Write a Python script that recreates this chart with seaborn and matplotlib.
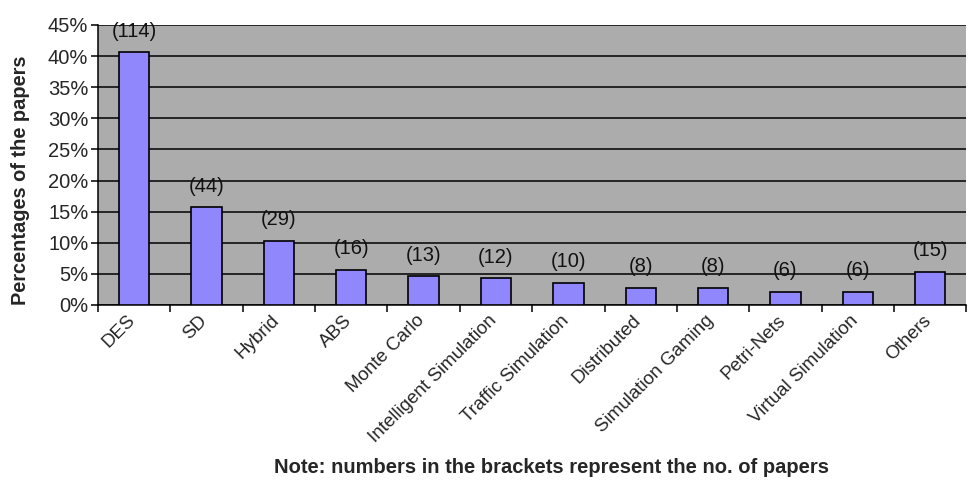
import matplotlib
matplotlib.use("Agg")
import matplotlib.pyplot as plt
import matplotlib.transforms as mtransforms
import numpy as np
import pandas as pd
import seaborn as sns
from matplotlib.ticker import FixedLocator, PercentFormatter

# Data
categories = ["DES", "SD", "Hybrid", "ABS", "Monte Carlo", "Intelligent Simulation",
              "Traffic Simulation", "Distributed", "Simulation Gaming", "Petri-Nets",
              "Virtual Simulation", "Others"]
percentages = [40.6, 15.7, 10.3, 5.7, 4.6, 4.3, 3.6, 2.8, 2.8, 2.1, 2.1, 5.3]
paper_counts = [114, 44, 29, 16, 13, 12, 10, 8, 8, 6, 6, 15]

df = pd.DataFrame({"method": categories, "pct": percentages, "n": paper_counts})

sns.set_style("white")
plt.rcParams['font.family'] = ['Liberation Sans', 'DejaVu Sans']

fig = plt.figure(figsize=(9.73, 4.8), dpi=100)
ax = fig.add_axes([0.1007, 0.3646, 0.8925, 0.5834])
ax.set_facecolor("#acacac")

sns.barplot(data=df, x="method", y="pct", color="#8f87fb", width=0.42,
            edgecolor="black", linewidth=1.2, saturation=1, ax=ax, zorder=3)

ax.set_ylim(0, 45)
ax.set_xlim(-0.5, len(categories) - 0.5)
ax.set_yticks(np.arange(0, 46, 5))
ax.yaxis.set_major_formatter(PercentFormatter(decimals=0))
ax.yaxis.grid(True, color="black", linewidth=1.1, zorder=1)
ax.set_axisbelow(True)

# count labels above bars
for i, (p, n) in enumerate(zip(percentages, paper_counts)):
    ax.text(i, p + 3.4, f"({n})", ha="center", va="center", fontsize=14.5,
            color="#111111", clip_on=False)

# tick marks between categories, labels at centers
ax.set_xticks(range(len(categories)))
ax.xaxis.set_minor_locator(FixedLocator(np.arange(-0.5, len(categories), 1)))
ax.tick_params(axis="x", which="major", length=0, pad=5)
ax.tick_params(axis="x", which="minor", bottom=True, length=5, width=1.1,
               color="black", direction="out")
ax.tick_params(axis="y", left=True, length=5, width=1.1, color="black",
               direction="out", pad=2)
ax.set_xticklabels(categories, rotation=45, ha="right", rotation_mode="anchor",
                   fontsize=13.5)
shift = mtransforms.ScaledTranslation(-8 / 100, 0, fig.dpi_scale_trans)
for lbl in ax.get_xticklabels():
    lbl.set_transform(lbl.get_transform() + shift)
for lbl in ax.get_yticklabels():
    lbl.set_fontsize(14.5)

ax.set_xlabel("")
ax.set_ylabel("Percentages of the papers", fontsize=14.4, fontweight="bold")
ax.yaxis.set_label_coords(-0.078, 0.446)

for side in ["top", "right"]:
    ax.spines[side].set_visible(False)
ax.spines["left"].set_color("black")
ax.spines["bottom"].set_color("black")
ax.spines["left"].set_linewidth(1.1)
ax.spines["bottom"].set_linewidth(1.1)

fig.text(0.567, 0.027, "Note: numbers in the brackets represent the no. of papers",
         ha="center", va="center", fontsize=14.5, fontweight="bold")

fig.savefig("out.png", dpi=100)
plt.close(fig)
